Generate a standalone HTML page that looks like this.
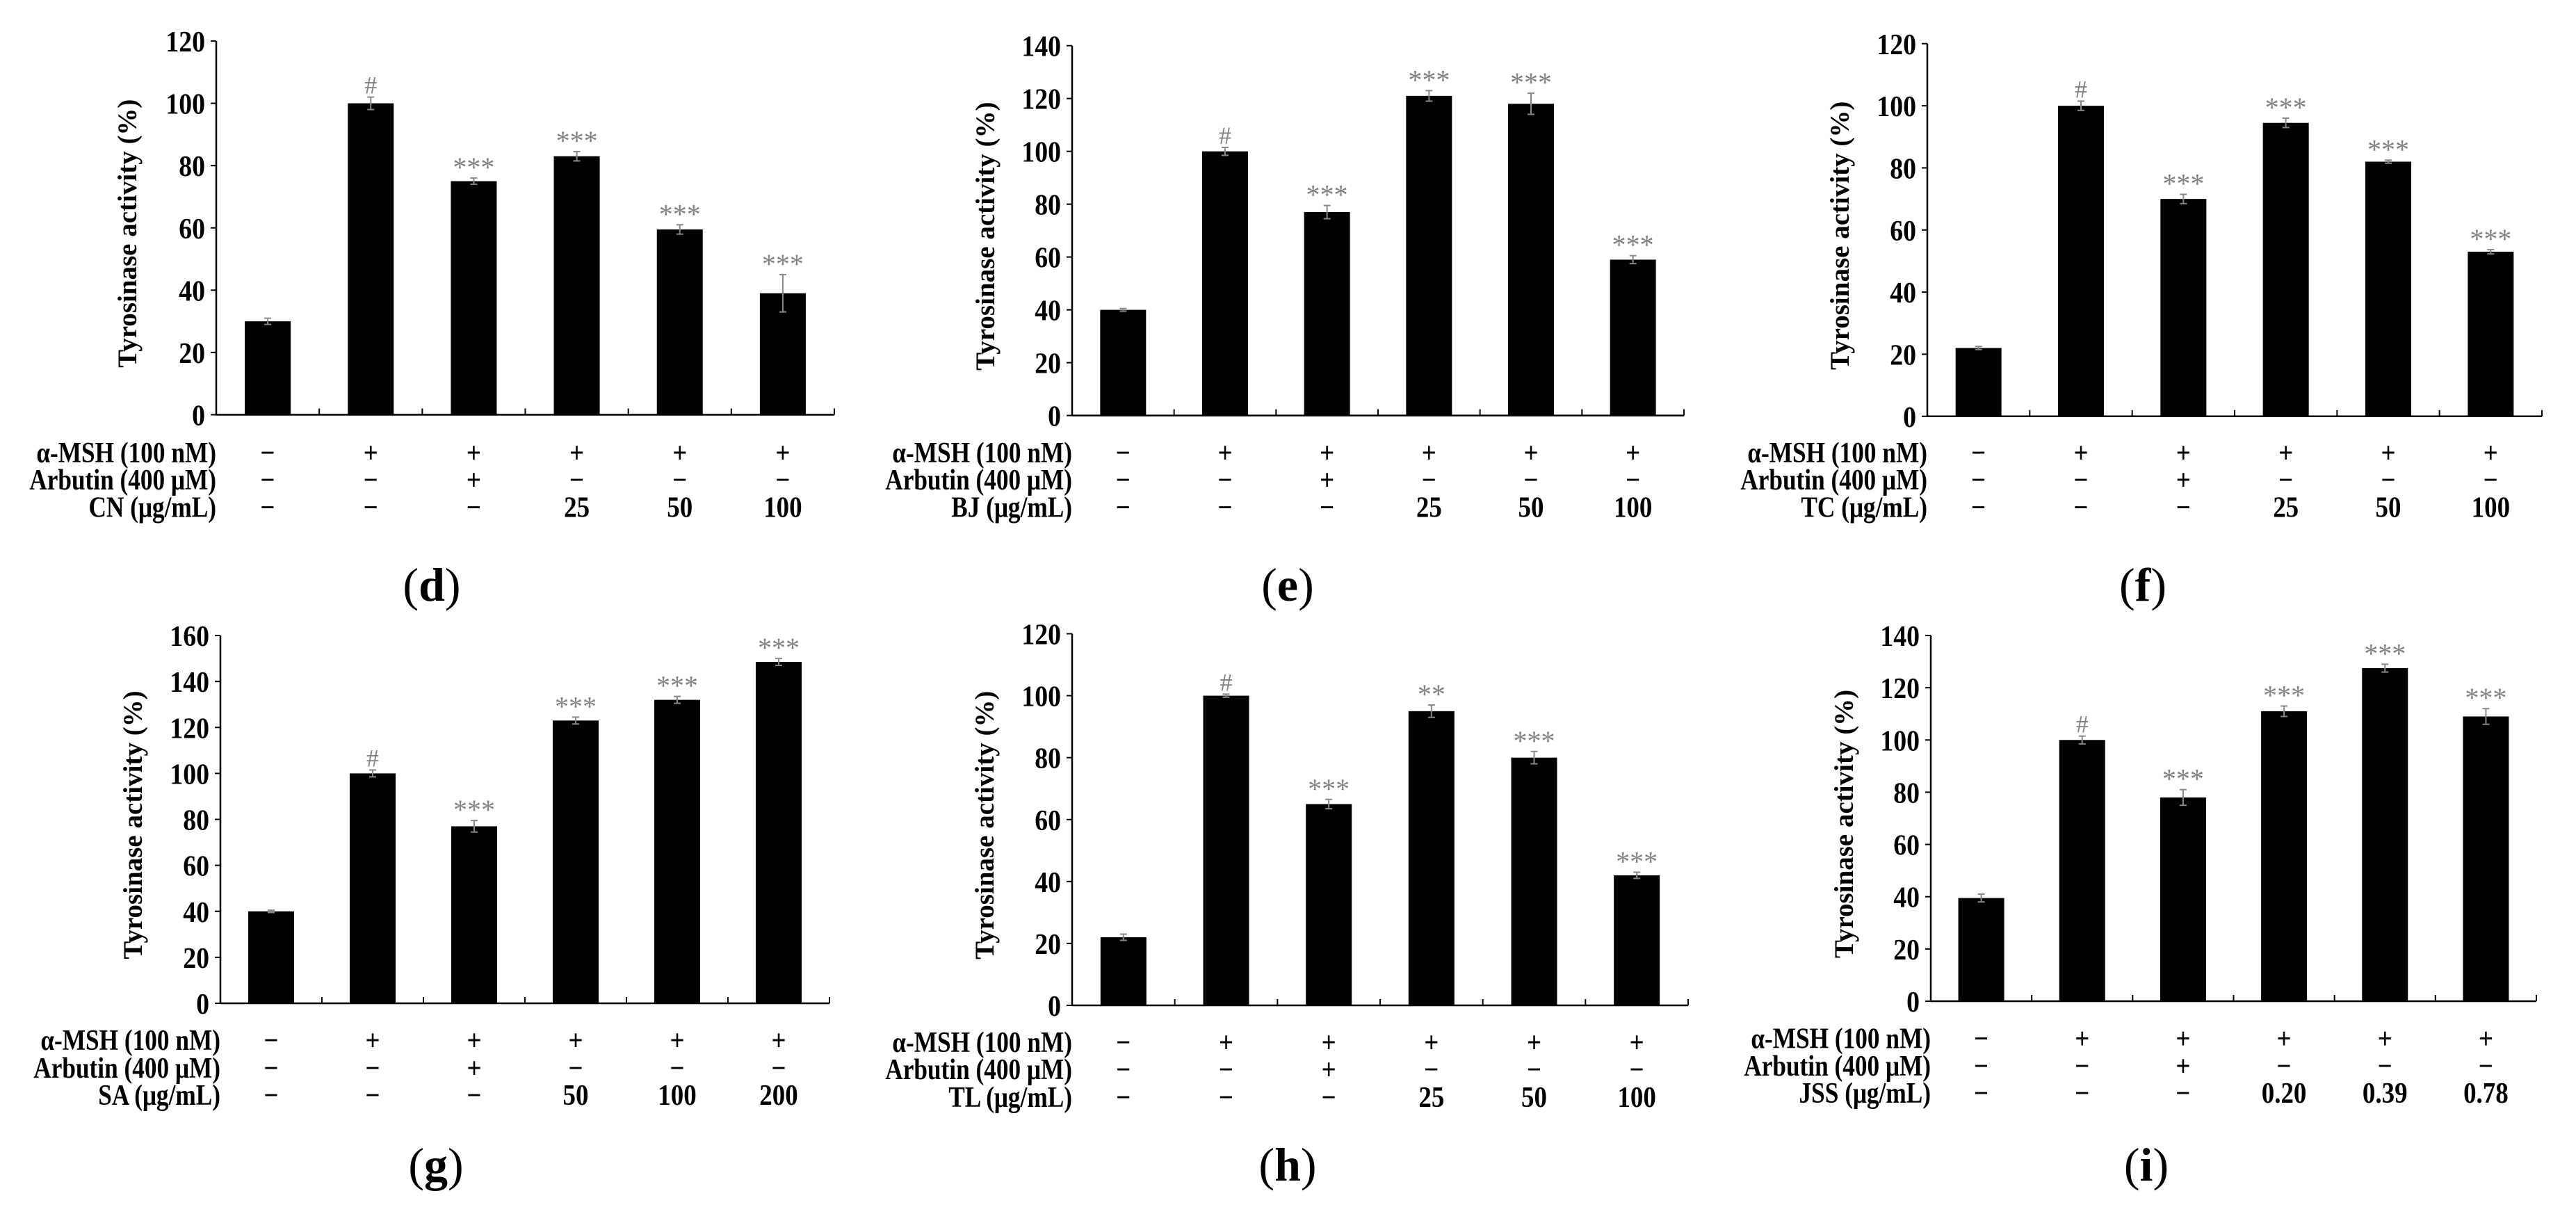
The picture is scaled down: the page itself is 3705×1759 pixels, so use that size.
<!DOCTYPE html>
<html><head><meta charset="utf-8">
<style>
html,body{margin:0;padding:0;background:#fff;}
svg{display:block;font-family:"Liberation Serif",serif;}
</style></head>
<body>
<svg id="fig" width="3705" height="1759" viewBox="0 0 3705 1759" xmlns="http://www.w3.org/2000/svg"></svg>
<script>
// ---- data arrays ----
const panelLabels = ["d","e","f","g","h","i"];
const extractNames = ["CN","BJ","TC","SA","TL","JSS"];
const yMaxes = [120,140,120,160,120,140];
const valuesD = [30,100,75,83,59.5,39];
const valuesE = [40,100,77,121,118,59];
const valuesF = [22,100,70,94.5,82,53];
const valuesG = [40,100,77,123,132,148.5];
const valuesH = [22,100,65,95,80,42];
const valuesI = [39.5,100,78,111,127.5,109];
const errorsD = [1,2,1,1.5,1.5,6];
const errorsE = [0.5,1.5,2.5,2,4,1.5];
const errorsF = [0.5,1.5,1.5,1.5,0.5,0.7];
const errorsG = [0.5,1.5,2.5,1.5,1.5,1.5];
const errorsH = [1,0.5,1.5,2,2,1];
const errorsI = [1.5,1.5,3,2,1.5,3];
const sigD = ["","#","***","***","***","***"];
const sigE = ["","#","***","***","***","***"];
const sigF = ["","#","***","***","***","***"];
const sigG = ["","#","***","***","***","***"];
const sigH = ["","#","***","**","***","***"];
const sigI = ["","#","***","***","***","***"];
const mshRow = ["−","+","+","+","+","+"];
const arbRow = ["−","−","+","−","−","−"];
const doseD = ["−","−","−","25","50","100"];
const doseE = ["−","−","−","25","50","100"];
const doseF = ["−","−","−","25","50","100"];
const doseG = ["−","−","−","50","100","200"];
const doseH = ["−","−","−","25","50","100"];
const doseI = ["−","−","−","0.20","0.39","0.78"];

const allValues=[valuesD,valuesE,valuesF,valuesG,valuesH,valuesI];
const allErrors=[errorsD,errorsE,errorsF,errorsG,errorsH,errorsI];
const allSig=[sigD,sigE,sigF,sigG,sigH,sigI];
const allDose=[doseD,doseE,doseF,doseG,doseH,doseI];

const layout=[
 {x0:311,x1:1200,y0:596.5,yt:59,rows:[651,690,729.5],lab:842,tx:187},
 {x0:1542,x1:2422,y0:597.6,yt:65.7,rows:[651,690,729.5],lab:842,tx:1421},
 {x0:2772,x1:3656,y0:598.8,yt:62.8,rows:[651,690,729.5],lab:842,tx:2650},
 {x0:317,x1:1193,y0:1443,yt:914,rows:[1496,1536,1575],lab:1676,tx:195},
 {x0:1542,x1:2428,y0:1446,yt:911.5,rows:[1499,1538,1578],lab:1676,tx:1420},
 {x0:2777,x1:3648,y0:1440,yt:914,rows:[1493.5,1533,1572],lab:1676,tx:2656}
];
const NS="http://www.w3.org/2000/svg";
const svg=document.getElementById('fig');
function mk(tag,attrs,parent,txt){const e=document.createElementNS(NS,tag);for(const k in attrs)e.setAttribute(k,attrs[k]);if(txt!==undefined)e.textContent=txt;parent.appendChild(e);return e;}

panelLabels.forEach((pl,p)=>{
  const L=layout[p], vals=allValues[p], errs=allErrors[p], sig=allSig[p], dose=allDose[p], ymax=yMaxes[p];
  const g=mk('g',{},svg);
  
  
  const ys=v=>L.y0-(v/ymax)*(L.y0-L.yt);
  const n=vals.length, cw=(L.x1-L.x0)/n;
  const xc=i=>L.x0+cw*(i+0.5);
  const ya=mk('line',{x1:L.x0,y1:L.yt,x2:L.x0,y2:L.y0,stroke:'#000','stroke-width':2.5},g);
  
  
  const xa=mk('line',{x1:L.x0,y1:L.y0,x2:L.x1,y2:L.y0,stroke:'#000','stroke-width':2.5},g);
  
  
  for(let v=0;v<=ymax;v+=20){
    const y=ys(v);
    mk('line',{x1:L.x0-8,y1:y,x2:L.x0,y2:y,stroke:'#000','stroke-width':2},g);
    const t=mk('text',{x:0,y:0,'text-anchor':'end','font-size':42,'font-weight':'bold',transform:`translate(${L.x0-16} ${y+15}) scale(0.9 1)`},g,String(v));
    
    
  }
  for(let i=1;i<=n;i++){const x=L.x0+cw*i;mk('line',{x1:x,y1:L.y0,x2:x,y2:L.y0-9,stroke:'#000','stroke-width':2},g);}
  const ty=(L.y0+L.yt)/2+8;
  const tt=mk('text',{x:L.tx,y:ty,'text-anchor':'middle','font-size':39,'font-weight':'bold',transform:`rotate(-90 ${L.tx} ${ty})`,'dominant-baseline':'middle'},g,'Tyrosinase activity (%)');
  
  
  vals.forEach((v,i)=>{
    const bw=66, x=xc(i)-bw/2, y=ys(v);
    const b=mk('rect',{x:x,y:y,width:bw,height:L.y0-y,fill:'#000'},g);
    
    
    const et=ys(v+errs[i]), eb=ys(v-errs[i]);
    mk('line',{x1:xc(i),y1:et,x2:xc(i),y2:eb,stroke:'#888','stroke-width':2},g);
    mk('line',{x1:xc(i)-5,y1:et,x2:xc(i)+5,y2:et,stroke:'#888','stroke-width':2},g);
    mk('line',{x1:xc(i)-5,y1:eb,x2:xc(i)+5,y2:eb,stroke:'#888','stroke-width':2},g);
    if(sig[i]){
      const isHash=sig[i]==='#';
      const s=mk('text',{x:xc(i),y:isHash?et-5:et-2,'text-anchor':'middle','font-size':isHash?36:40,fill:'#808080'},g,sig[i]);
      
      
    }
  });
  const rowLabels=['α-MSH (100 nM)','Arbutin (400 μM)',extractNames[p]+' (μg/mL)'];
  const rowVals=[mshRow,arbRow,dose];
  rowLabels.forEach((lab,r)=>{
    const yy=L.rows[r]+14;
    const rl=mk('text',{x:0,y:0,'text-anchor':'end','font-size':42,'font-weight':'bold',transform:`translate(${L.x0} ${yy}) scale(0.84 1)`},g,lab);
    
    
    rowVals[r].forEach((s,i)=>{
      const c=mk('text',{x:0,y:0,'text-anchor':'middle','font-size':42,'font-weight':'bold',transform:`translate(${xc(i)} ${yy}) scale(0.88 1)`},g,s);
      
      
    });
  });
  const pt=mk('text',{x:L.x0+310,y:L.lab+22,'text-anchor':'middle','font-size':68},g);
  
  
  mk('tspan',{},pt,'(');
  mk('tspan',{'font-weight':'bold'},pt,pl);
  mk('tspan',{},pt,')');
});
</script>
</body></html>
